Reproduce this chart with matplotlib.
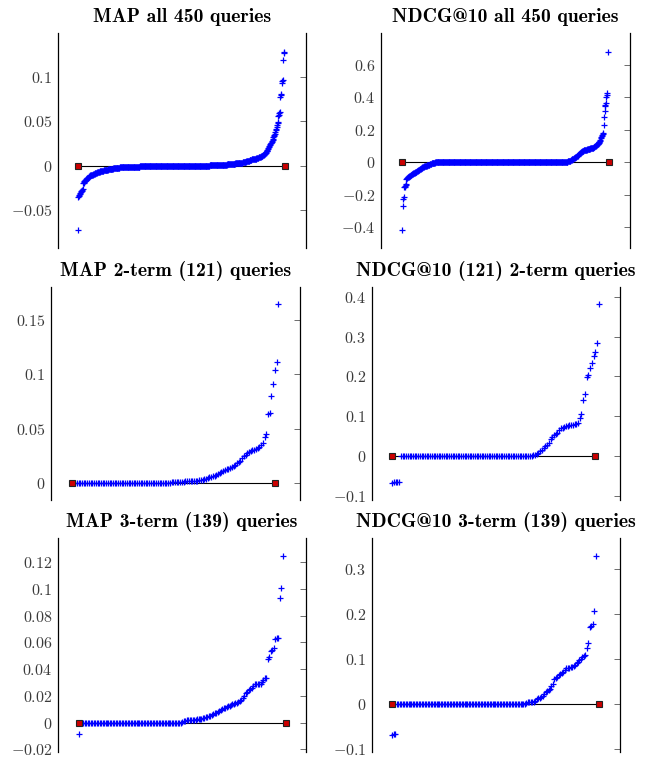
import numpy as np
import matplotlib
matplotlib.use("Agg")
import matplotlib.pyplot as plt
from matplotlib.ticker import FuncFormatter

plt.rcParams["mathtext.fontset"] = "cm"

# Per-query differences, sorted ascending
map_all = ([-0.0726]
           + [-0.035, -0.034, -0.033, -0.032, -0.031, -0.030, -0.029, -0.028, -0.027, -0.026]
           + [-0.020, -0.019, -0.018]
           + [-0.017] * 2 + [-0.016] * 2 + [-0.015] * 2 + [-0.014] * 3 + [-0.013] * 2 + [-0.012] * 2
           + [-0.011] * 3 + [-0.010] * 3 + [-0.009] * 4 + [-0.008] * 5 + [-0.007] * 6
           + [-0.006] * 8 + [-0.005] * 10 + [-0.004] * 11
           + [-0.003] * 14 + [-0.002] * 15 + [-0.001] * 29
           + [0.0] * 152
           + [0.0003] * 15 + [0.0007] * 14
           + [0.001] * 9 + [0.0015] * 9 + [0.002] * 9 + [0.0025] * 9
           + [0.003] * 7 + [0.004] * 8 + [0.005] * 7
           + [0.006] * 5 + [0.007] * 5 + [0.008] * 5
           + [0.009] * 5 + [0.010] * 5 + [0.011] * 4
           + [0.0115, 0.012, 0.0125, 0.013, 0.0135, 0.014, 0.0145]
           + [0.015, 0.016, 0.017, 0.018, 0.019, 0.020, 0.021, 0.022, 0.023]
           + [0.024, 0.025, 0.026, 0.027, 0.028, 0.029, 0.030, 0.032]
           + [0.033, 0.034, 0.036, 0.038, 0.040, 0.041, 0.043, 0.046, 0.048, 0.049]
           + [0.056, 0.057, 0.059, 0.060, 0.077, 0.079, 0.080, 0.093, 0.095, 0.096]
           + [0.119, 0.126, 0.128])

ndcg_all = ([-0.419, -0.27, -0.225, -0.215]
            + [-0.155, -0.150, -0.145, -0.138, -0.132]
            + [-0.100, -0.097, -0.095, -0.092]
            + [-0.090, -0.088, -0.086, -0.084, -0.082, -0.080, -0.078, -0.076, -0.074,
               -0.072, -0.070, -0.068, -0.066, -0.064, -0.063, -0.062, -0.061]
            + [-0.059, -0.057, -0.055, -0.053, -0.051, -0.049, -0.047, -0.045, -0.043,
               -0.041, -0.039, -0.037, -0.035, -0.033, -0.031, -0.030, -0.028, -0.027]
            + [-0.025, -0.024, -0.023, -0.022, -0.021, -0.020, -0.019, -0.018, -0.017,
               -0.016, -0.015, -0.014, -0.013, -0.011, -0.010, -0.008, -0.007, -0.006]
            + [-0.005, -0.004, -0.003, -0.003, -0.002, -0.002, -0.001, -0.001]
            + [0.0] * 283
            + [0.001, 0.002, 0.003, 0.004, 0.005, 0.006, 0.007, 0.008, 0.009, 0.010, 0.011]
            + [0.013, 0.015, 0.017, 0.018, 0.020, 0.021, 0.022]
            + [0.024, 0.026, 0.028, 0.030, 0.032, 0.034, 0.036, 0.039]
            + [0.042, 0.045, 0.048, 0.051, 0.054, 0.057, 0.059]
            + [0.061, 0.063, 0.065, 0.067, 0.069, 0.070, 0.072]
            + [0.073, 0.074, 0.075, 0.076, 0.077, 0.078, 0.079, 0.080, 0.081, 0.081, 0.082]
            + [0.083, 0.084, 0.085, 0.086, 0.087, 0.088, 0.089, 0.090, 0.091, 0.091, 0.092]
            + [0.094, 0.096, 0.098, 0.100, 0.102, 0.105, 0.107]
            + [0.110, 0.113, 0.116, 0.120, 0.123, 0.127]
            + [0.133, 0.140, 0.148]
            + [0.155, 0.162, 0.170, 0.175, 0.179]
            + [0.228, 0.277, 0.318, 0.345, 0.355, 0.364, 0.405, 0.415, 0.425, 0.682])

map_2term = ([0.0] * 58
             + [0.0003, 0.0004, 0.0005, 0.0006, 0.0007, 0.0008, 0.0009, 0.001]
             + [0.0011, 0.0012, 0.0013, 0.0014, 0.0015, 0.0016]
             + [0.0018, 0.002, 0.0022, 0.0024, 0.0026]
             + [0.003, 0.0037, 0.0044, 0.005, 0.0055, 0.006, 0.0065, 0.0071]
             + [0.008, 0.009, 0.0101, 0.011, 0.012, 0.0126, 0.013, 0.0135, 0.0142]
             + [0.0155, 0.0167, 0.0179, 0.019, 0.0203, 0.023, 0.0249]
             + [0.026, 0.027, 0.028, 0.029, 0.030, 0.0305, 0.031, 0.032, 0.033]
             + [0.0348, 0.0363, 0.0424, 0.045, 0.0635, 0.064]
             + [0.080, 0.091, 0.104, 0.1116, 0.1647])

ndcg_2term = ([-0.067, -0.066, -0.065, -0.064, -0.064]
              + [0.0] * 77
              + [0.002, 0.0033, 0.006, 0.0083, 0.012, 0.015, 0.020, 0.025, 0.029, 0.0318]
              + [0.044, 0.0485, 0.052, 0.055, 0.0585, 0.066, 0.0695, 0.0715, 0.0736]
              + [0.075, 0.0765, 0.0778, 0.0785, 0.079, 0.0795, 0.081, 0.0837]
              + [0.0946, 0.1054, 0.1406, 0.1557]
              + [0.1975, 0.2034, 0.2201, 0.2327, 0.252, 0.262, 0.2845, 0.3816])

map_3term = ([-0.0087]
             + [0.0] * 69
             + [0.0005, 0.001, 0.0015]
             + [0.0017, 0.0018, 0.0019, 0.002, 0.0021, 0.0022, 0.0023, 0.0024, 0.0025]
             + [0.0028, 0.003, 0.0033, 0.0037, 0.004, 0.0045, 0.005, 0.0053, 0.0057]
             + [0.0063, 0.0069, 0.0075, 0.0082, 0.0088, 0.0095, 0.010, 0.0106, 0.0112]
             + [0.0117, 0.0122, 0.0127, 0.0132, 0.0136, 0.014, 0.0144, 0.0148, 0.0152]
             + [0.016, 0.0172, 0.0187, 0.020, 0.022]
             + [0.0232, 0.0243, 0.0252, 0.0261, 0.0275, 0.0285, 0.0289, 0.029, 0.029, 0.029]
             + [0.0305, 0.0319, 0.033, 0.0336]
             + [0.0476, 0.049, 0.0535, 0.0545, 0.0555]
             + [0.0625, 0.063, 0.0632, 0.0929, 0.1004, 0.1248])

ndcg_3term = ([-0.067, -0.066, -0.065]
              + [0.0] * 87
              + [0.002, 0.0035, 0.0044, 0.005, 0.0055, 0.0059, 0.0065]
              + [0.008, 0.011, 0.0133, 0.015, 0.017, 0.019]
              + [0.023, 0.028, 0.030, 0.032, 0.0333]
              + [0.04, 0.0444, 0.0556, 0.059, 0.062, 0.065]
              + [0.067, 0.070, 0.0724, 0.076, 0.080, 0.081]
              + [0.082, 0.083, 0.0836, 0.086, 0.088, 0.091]
              + [0.094, 0.0984, 0.102, 0.106, 0.108, 0.110]
              + [0.126, 0.137, 0.1724, 0.175, 0.178, 0.208, 0.330])

titles = ["MAP all 450 queries", "NDCG@10 all 450 queries",
          "MAP 2-term (121) queries", "NDCG@10 (121) 2-term queries",
          "MAP 3-term (139) queries", "NDCG@10 3-term (139) queries"]
series = [map_all, ndcg_all, map_2term, ndcg_2term, map_3term, ndcg_3term]

# end of the zero reference line (query index)
line_end = [452, 453, 119, 119, 141, 141]

yticks = [[-0.05, 0, 0.05, 0.1],
          [-0.4, -0.2, 0, 0.2, 0.4, 0.6],
          [0, 0.05, 0.1, 0.15],
          [-0.1, 0, 0.1, 0.2, 0.3, 0.4],
          [-0.02, 0, 0.02, 0.04, 0.06, 0.08, 0.1, 0.12],
          [-0.1, 0, 0.1, 0.2, 0.3]]
ylims = [(-0.0925, 0.149), (-0.528, 0.797), (-0.016, 0.181),
         (-0.11, 0.425), (-0.0217, 0.1377), (-0.105, 0.369)]
xlims = [(-42.6, 498), (-45.6, 498.7), (-11.2, 133.6),
         (-11, 133.4), (-13.2, 154.8), (-13, 155.5)]

# axes boxes in pixels: left, top, right, bottom
boxes = [(58, 33, 306, 248), (381, 33, 630, 248),
         (50.7, 286.7, 300, 500), (371.7, 286.7, 620, 500),
         (58, 538.3, 306, 751.7), (371.7, 538.3, 620, 751.7)]

W, H = 657, 758


def tick_fmt(v, pos):
    s = f"{round(v, 6):g}"
    return f"${s}$"


fig = plt.figure(figsize=(W / 100, H / 100), dpi=100)

for k in range(6):
    l, t, r, b = boxes[k]
    ax = fig.add_axes([l / W, 1 - b / H, (r - l) / W, (b - t) / H])
    y = np.array(series[k])
    x = np.arange(1, len(y) + 1)

    ax.plot([1, line_end[k]], [0, 0], color="k", lw=0.8, zorder=1)
    ax.plot(x, y, "+", color="#0000ff", ms=4, mew=0.9, zorder=2)
    ax.plot([1, line_end[k]], [0, 0], "s", ms=4, mfc="#cc0000", mec="#222222",
            mew=0.8, zorder=3)

    ax.set_xlim(*xlims[k])
    ax.set_ylim(*ylims[k])
    ax.set_xticks([])
    ax.set_yticks(yticks[k])
    ax.yaxis.set_major_formatter(FuncFormatter(tick_fmt))
    ax.tick_params(axis="y", left=False, right=True, labelleft=True,
                   direction="in", length=4, width=0.6, color="#555555",
                   pad=4, labelsize=11.5, labelcolor="#3a3a3a")
    ax.spines["top"].set_visible(False)
    ax.spines["bottom"].set_visible(False)
    for side in ["left", "right"]:
        ax.spines[side].set_linewidth(0.9)
    ax.set_title(titles[k], fontfamily="cmb10", fontsize=14.2, pad=8)

fig.savefig("out.png", dpi=100)
